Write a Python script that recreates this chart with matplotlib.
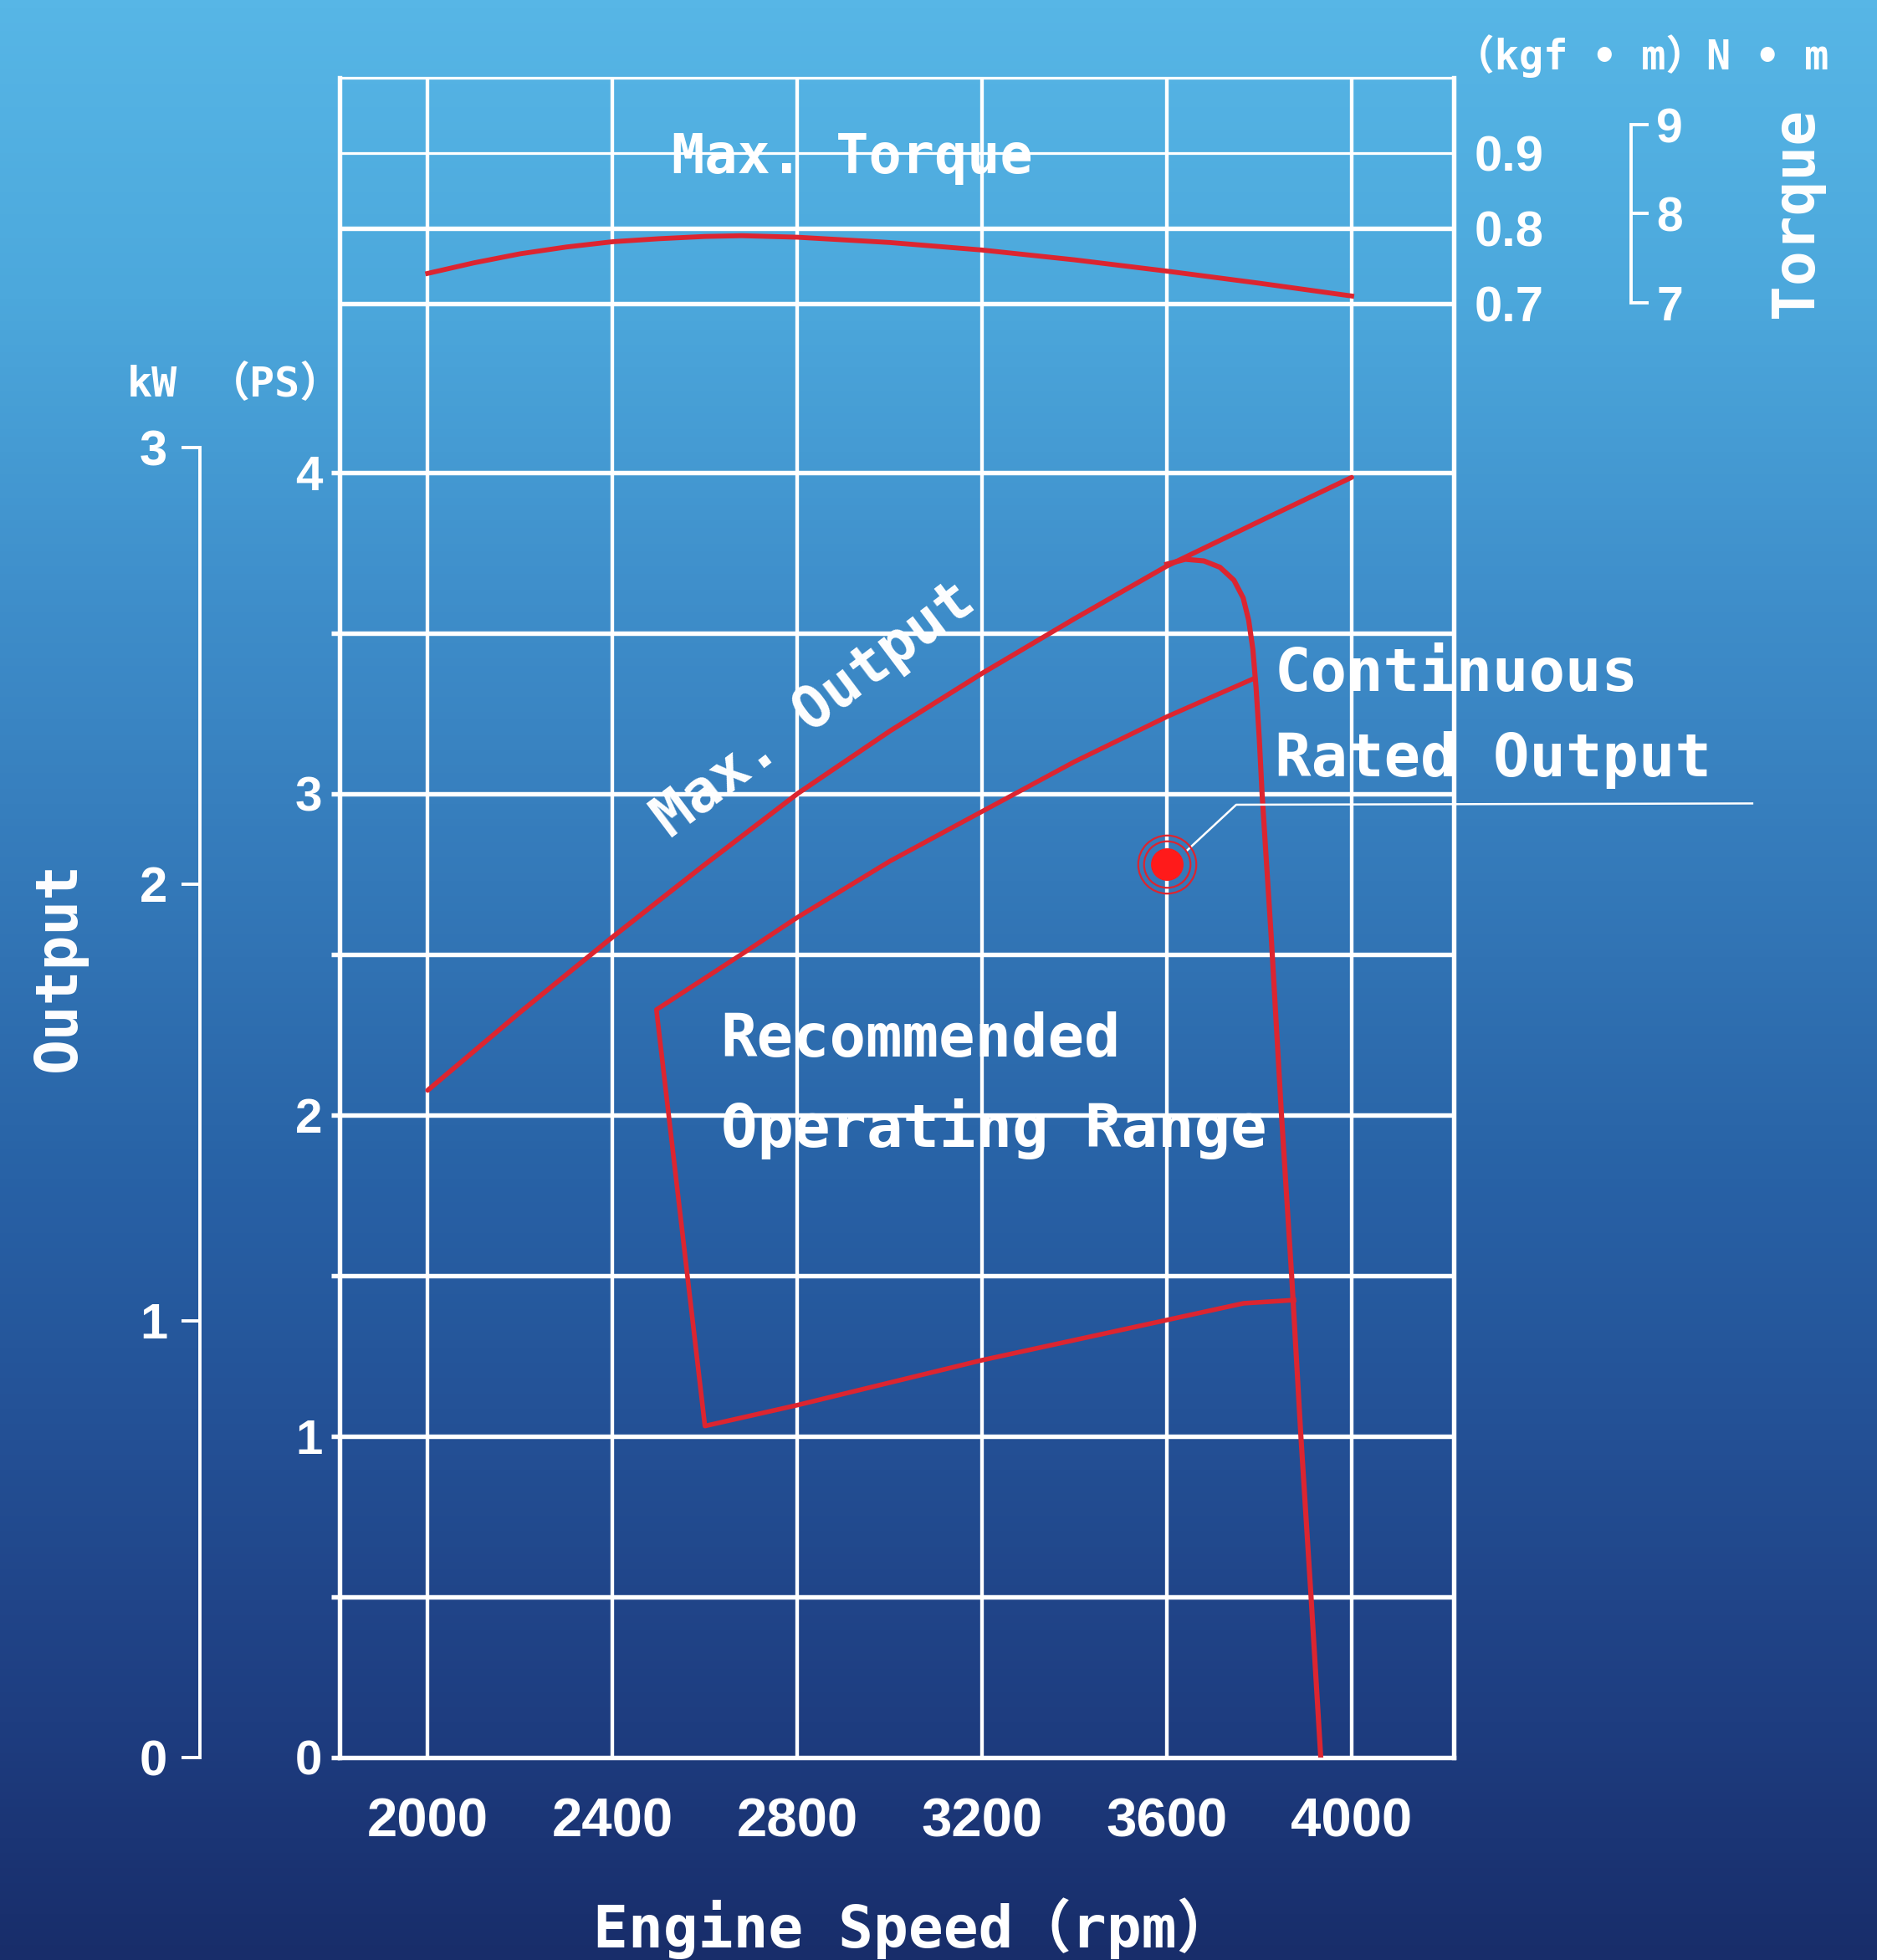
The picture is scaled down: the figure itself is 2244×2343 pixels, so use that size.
import numpy as np
import matplotlib
matplotlib.use("Agg")
import matplotlib.pyplot as plt
from matplotlib.colors import LinearSegmentedColormap

# engine speed ticks (rpm)
rpm_ticks = [2000, 2400, 2800, 3200, 3600, 4000]

# max torque curve (kgf.m)
torque_rpm = [2000, 2100, 2200, 2300, 2400, 2500, 2600, 2680, 2800, 3000, 3200, 3400, 3600, 3800, 4000]
torque_kgfm = [0.740, 0.754, 0.766, 0.775, 0.782, 0.786, 0.789, 0.790, 0.788, 0.781, 0.771, 0.758, 0.743, 0.727, 0.710]

# max output curve (PS)
maxout_rpm = [2000, 2200, 2400, 2600, 2800, 3000, 3200, 3400, 3600, 3800, 4000]
maxout_ps = [2.077, 2.32, 2.554, 2.78, 3.0, 3.195, 3.375, 3.545, 3.709, 3.848, 3.985]

# governor drop-off curve (PS)
gov_rpm = [3600, 3640, 3680, 3715, 3745, 3765, 3777, 3786, 3793, 3800, 3806,
           3826, 3848, 3870, 3890, 3912, 3933]
gov_ps = [3.715, 3.73, 3.725, 3.705, 3.665, 3.61, 3.54, 3.45, 3.33, 3.17, 3.0,
          2.55, 2.0, 1.5, 1.0, 0.5, 0.0]

# recommended operating range outline (PS)
rec_rpm = [3790, 3600, 3400, 3200, 3000, 2800, 2679, 2495, 2600, 2800, 3200, 3600, 3766, 3875]
rec_ps = [3.36, 3.24, 3.10, 2.945, 2.79, 2.615, 2.5, 2.328, 1.032, 1.097, 1.237, 1.362, 1.414, 1.424]

# continuous rated output point and its leader line
rated_rpm, rated_ps = 3600, 2.78
leader_rpm = [3643, 3750, 4867]
leader_ps = [2.823, 2.966, 2.97]

ps_ticks = [0, 0.5, 1, 1.5, 2, 2.5, 3, 3.5, 4]
ps_labels = ["0", "", "1", "", "2", "", "3", "", "4"]
kw_ticks = [0, 1, 2, 3]
kgfm_ticks = [0.7, 0.8, 0.9]
nm_ticks = [7, 8, 9]

PS_PER_KW = 1.3596
RED = "#dc2530"
WHITE = "white"
GRID_LW = 3.9
MONO = ["DejaVu Sans Mono", "Noto Sans CJK SC"]
NUM = "Liberation Sans"

fig = plt.figure(figsize=(22.44, 23.43), dpi=100)

# background gradient
bg = fig.add_axes([0, 0, 1, 1], zorder=-10)
cmap = LinearSegmentedColormap.from_list("bg", [
    (0.0, "#57b6e6"), (0.15, "#4ca8dc"), (0.30, "#3f8fcb"), (0.45, "#3479b9"),
    (0.60, "#2862a6"), (0.75, "#234e93"), (0.88, "#1e3d80"), (1.0, "#182d6a")])
bg.imshow(np.linspace(0, 1, 256).reshape(-1, 1), aspect="auto", cmap=cmap,
          extent=[0, 1, 0, 1], origin="upper")
bg.set_axis_off()

ax = fig.add_axes([0.1811, 0.1033, 0.5932, 0.8572])
ax.set_facecolor("none")
ax.set_xlim(1810, 4220)
ax.set_ylim(0, 5.23)

# grid
for x in rpm_ticks:
    ax.axvline(x, color=WHITE, lw=GRID_LW * 0.8, zorder=1)
for y in ps_ticks[1:]:
    ax.axhline(y, color=WHITE, lw=GRID_LW, zorder=1)
for s in ["left", "right", "bottom"]:
    ax.spines[s].set_color(WHITE)
    ax.spines[s].set_linewidth(GRID_LW)
ax.spines["top"].set_color(WHITE)
ax.spines["top"].set_linewidth(GRID_LW * 0.6)

ax.set_xticks(rpm_ticks)
ax.set_xticklabels([str(v) for v in rpm_ticks])
ax.tick_params(axis="x", length=0, pad=34, colors=WHITE, labelsize=47)
for lab in ax.get_xticklabels():
    lab.set_fontfamily(NUM)
    lab.set_fontweight("bold")
ax.set_yticks(ps_ticks)
ax.set_yticklabels(ps_labels)
ax.tick_params(axis="y", length=7, width=GRID_LW, pad=8, colors=WHITE, labelsize=42)
for lab in ax.get_yticklabels():
    lab.set_fontfamily(NUM)
    lab.set_fontweight("bold")

# output curves
ax.plot(maxout_rpm, maxout_ps, color=RED, lw=4.2, zorder=3, solid_capstyle="round")
ax.plot(gov_rpm, gov_ps, color=RED, lw=4.4, zorder=3, solid_joinstyle="round")
ax.plot(rec_rpm, rec_ps, color=RED, lw=4.0, zorder=3)

# rated point
ax.plot(leader_rpm, leader_ps, color=WHITE, lw=1.8, zorder=3, clip_on=False)
ax.plot([rated_rpm], [rated_ps], "o", ms=27, color="#ff1a1a", zorder=4)
ax.plot([rated_rpm], [rated_ps], "o", ms=40, mfc="none", mec=RED, mew=1.6, zorder=4)
ax.plot([rated_rpm], [rated_ps], "o", ms=50, mfc="none", mec=RED, mew=1.6, zorder=4)

# in-plot labels
ax.text(2918, 4.98, "Max. Torque", color=WHITE, fontsize=47, family=MONO,
        fontweight="bold", ha="center", va="center", zorder=5)
ax.text(2837, 3.26, "Max. Output", color=WHITE, fontsize=50, family=MONO,
        fontweight="bold", ha="center", va="center", rotation=37, zorder=5)
ax.text(3833, 3.37, "Continuous", color=WHITE, fontsize=52, family=MONO,
        fontweight="bold", ha="left", va="center", zorder=5)
ax.text(3833, 3.105, "Rated Output", color=WHITE, fontsize=52, family=MONO,
        fontweight="bold", ha="left", va="center", zorder=5)
ax.text(2634, 2.233, "Recommended", color=WHITE, fontsize=52, family=MONO,
        fontweight="bold", ha="left", va="center", zorder=5)
ax.text(2634, 1.957, "Operating Range", color=WHITE, fontsize=52, family=MONO,
        fontweight="bold", ha="left", va="center", zorder=5)

# torque scale (kgf.m) sharing the plot box
axt = ax.twinx()
axt.set_ylim(-1.229, 1.0)
for s in axt.spines.values():
    s.set_visible(False)
for y in kgfm_ticks:
    axt.axhline(y, color=WHITE, lw=GRID_LW * (0.6 if y == 0.9 else 1.0), zorder=1)
axt.plot(torque_rpm, torque_kgfm, color=RED, lw=4.2, zorder=3)
axt.set_yticks(kgfm_ticks)
axt.set_yticklabels([f"{v:.1f}" for v in kgfm_ticks])
axt.tick_params(axis="y", length=0, pad=18, colors=WHITE, labelsize=43)
for lab in axt.get_yticklabels():
    lab.set_fontfamily(NUM)
    lab.set_fontweight("bold")

# N.m bracket scale
axn = ax.twinx()
axn.set_ylim(-9.394, 9.535)
for s in ["left", "top", "bottom"]:
    axn.spines[s].set_visible(False)
axn.spines["right"].set_position(("axes", 1.1594))
axn.spines["right"].set_bounds(7, 9)
axn.spines["right"].set_color(WHITE)
axn.spines["right"].set_linewidth(2.8)
axn.set_yticks(nm_ticks)
axn.set_yticklabels([str(v) for v in nm_ticks])
axn.tick_params(axis="y", direction="out", length=15, width=2.8, pad=7,
                colors=WHITE, labelsize=41)
for lab in axn.get_yticklabels():
    lab.set_fontfamily(NUM)
    lab.set_fontweight("bold")

# kW scale on the left
axk = ax.twinx()
axk.set_ylim(0, 5.23 / PS_PER_KW)
for s in ["right", "top", "bottom"]:
    axk.spines[s].set_visible(False)
axk.spines["left"].set_visible(True)
axk.spines["left"].set_position(("axes", -0.1257))
axk.spines["left"].set_bounds(0, 3)
axk.spines["left"].set_color(WHITE)
axk.spines["left"].set_linewidth(2.8)
axk.yaxis.set_ticks_position("left")
axk.yaxis.set_label_position("left")
axk.set_yticks(kw_ticks)
axk.set_yticklabels([str(v) for v in kw_ticks])
axk.tick_params(axis="y", direction="out", length=16, width=2.8, pad=12,
                colors=WHITE, labelsize=43)
for lab in axk.get_yticklabels():
    lab.set_fontfamily(NUM)
    lab.set_fontweight("bold")

# axis titles and units
fig.text(0.4867, 0.016, "Engine Speed（rpm）", color=WHITE, fontsize=50,
         family=MONO, fontweight="bold", ha="center", va="center")
fig.text(0.0313, 0.507, "Output", color=WHITE, fontsize=50, family=MONO,
         fontweight="bold", ha="center", va="center", rotation=90)
fig.text(0.9568, 0.8916, "Torque", color=WHITE, fontsize=50, family=MONO,
         fontweight="bold", ha="center", va="center", rotation=90)
fig.text(0.8745, 0.9714, "（kgf • m）N • m", color=WHITE, fontsize=35,
         family=MONO, fontweight="bold", ha="center", va="center")
fig.text(0.0812, 0.8037, "kW", color=WHITE, fontsize=36, family=MONO,
         fontweight="bold", ha="center", va="center")
fig.text(0.1465, 0.8037, "（PS）", color=WHITE, fontsize=36, family=MONO,
         fontweight="bold", ha="center", va="center")

fig.savefig("out.png", dpi=100)
